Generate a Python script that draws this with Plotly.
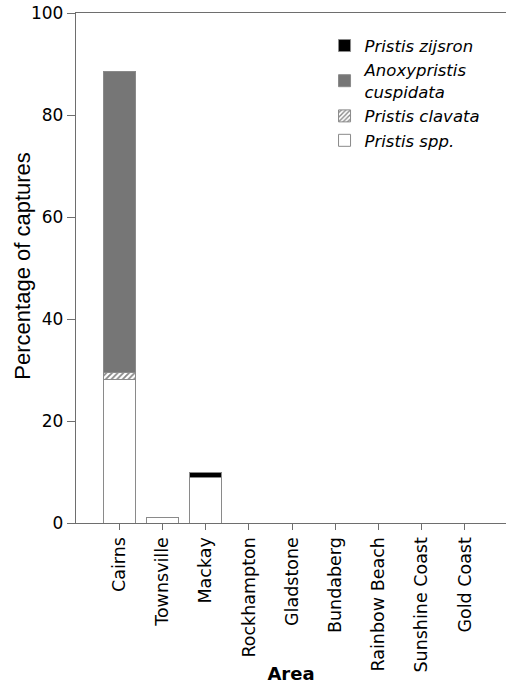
import plotly.graph_objects as go

# Capture composition by area (percentage of all captures)
areas = ["Cairns", "Townsville", "Mackay", "Rockhampton", "Gladstone",
         "Bundaberg", "Rainbow Beach", "Sunshine Coast", "Gold Coast"]
pristis_spp = [28.2, 1.0, 8.9, 0, 0, 0, 0, 0, 0]
pristis_clavata = [1.3, 0, 0, 0, 0, 0, 0, 0, 0]
anoxypristis_cuspidata = [59.1, 0, 0, 0, 0, 0, 0, 0, 0]
pristis_zijsron = [0, 0, 1.1, 0, 0, 0, 0, 0, 0]

outline = dict(color="#8a8a8a", width=1)
bar_width = 0.75

fig = go.Figure()
fig.add_trace(go.Bar(
    x=areas, y=pristis_spp, name="Pristis spp.", width=bar_width,
    marker=dict(color="white", line=outline)))
fig.add_trace(go.Bar(
    x=areas, y=pristis_clavata, name="Pristis clavata", width=bar_width,
    marker=dict(color="white", line=outline,
                pattern=dict(shape="/", fgcolor="#111", bgcolor="white",
                             size=4, solidity=0.45))))
fig.add_trace(go.Bar(
    x=areas, y=anoxypristis_cuspidata, name="Anoxypristis<br>cuspidata",
    width=bar_width, marker=dict(color="#767676", line=outline)))
fig.add_trace(go.Bar(
    x=areas, y=pristis_zijsron, name="Pristis zijsron", width=bar_width,
    marker=dict(color="black", line=outline)))

axis_color = "#6e6e6e"
fig.update_layout(
    width=506, height=684,
    margin=dict(l=76, r=0, t=13, b=161),
    paper_bgcolor="white", plot_bgcolor="white",
    barmode="stack",
    bargap=0.25,
    font=dict(family="DejaVu Sans", color="black", size=16),
    showlegend=True,
    legend=dict(
        x=0.578, y=0.97, xanchor="left", yanchor="top",
        traceorder="reversed",
        font=dict(family="DejaVu Sans", size=16.5, style="italic", color="black"),
        bgcolor="rgba(0,0,0,0)", tracegroupgap=0, itemwidth=30,
    ),
    xaxis=dict(
        type="category", range=[-1, 8.95], automargin=False,
        showline=True, linecolor=axis_color, linewidth=1.3, mirror=True,
        ticks="outside", ticklen=6, tickcolor=axis_color, tickwidth=1.3,
        tickangle=-90, tickfont=dict(family="DejaVu Sans", size=17.5),
        showgrid=False, zeroline=False,
        title=dict(text="<b>Area</b>", font=dict(family="DejaVu Sans", size=18),
                   standoff=6),
    ),
    yaxis=dict(
        range=[0, 100], tickvals=[0, 20, 40, 60, 80, 100], automargin=False,
        showline=True, linecolor=axis_color, linewidth=1.3,
        ticks="outside", ticklen=8, tickcolor=axis_color, tickwidth=1.3,
        tickfont=dict(family="DejaVu Sans", size=17),
        showgrid=False, zeroline=False,
    ),
    annotations=[dict(
        text="Percentage of captures", textangle=-90,
        xref="paper", yref="paper", x=-0.124, y=0.504,
        xanchor="center", yanchor="middle", showarrow=False,
        font=dict(family="Liberation Sans", size=22, color="black"),
    )],
)

fig.write_html("out.html")
